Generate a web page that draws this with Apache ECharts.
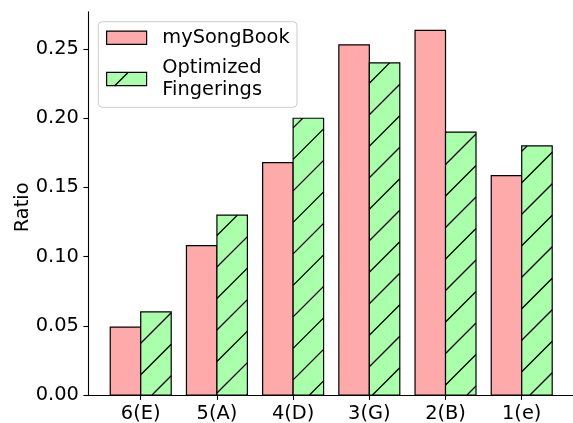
<!DOCTYPE html>
<html><head><meta charset="utf-8">
<script src="https://cdn.jsdelivr.net/npm/echarts@6/dist/echarts.min.js"></script>
<style>html,body{margin:0;padding:0;background:#fff}#c{width:573px;height:423px}</style>
</head><body><div id="c"></div>
<script>
const categories = ['6(E)', '5(A)', '4(D)', '3(G)', '2(B)', '1(e)'];
const mySongBook = [0.049, 0.108, 0.168, 0.253, 0.2635, 0.1585];
const optimizedFingerings = [0.060, 0.130, 0.200, 0.240, 0.190, 0.180];
const yTicks = [0, 0.05, 0.10, 0.15, 0.20, 0.25];
const xTicks = [0, 1, 2, 3, 4, 5];
const seriesNames = ['mySongBook', 'Optimized Fingerings'];

const FONT = 'DejaVu Sans';
const FS = 19.4;
const BAR_W = 0.4;
const PINK = '#ffaaaa', GREEN = '#aaffaa';
const HATCH_STEP = 31.5, HATCH_C0 = 452.5;

function hatchLines(x0, x1, yTop, yBot, z) {
  const out = [];
  const cMin = x0 + yTop, cMax = x1 + yBot;
  let k = Math.ceil((cMin - HATCH_C0) / HATCH_STEP);
  for (;; k++) {
    const c = HATCH_C0 + k * HATCH_STEP;
    if (c > cMax) break;
    const xa = Math.max(x0, c - yBot), xb = Math.min(x1, c - yTop);
    if (xb <= xa) continue;
    const el = {type: 'line', shape: {x1: xa, y1: c - xa, x2: xb, y2: c - xb},
      style: {stroke: '#000', lineWidth: 1.3}};
    if (z != null) el.z = z;
    out.push(el);
  }
  return out;
}

function makeRender(offset, hatched, color) {
  return function (params, api) {
    const i = api.value(0), v = api.value(1);
    const p0 = api.coord([i + offset - BAR_W / 2, v]);
    const p1 = api.coord([i + offset + BAR_W / 2, 0]);
    const x0 = p0[0], x1 = p1[0], yTop = p0[1], yBot = p1[1];
    const shape = {x: x0, y: yTop, width: x1 - x0, height: yBot - yTop};
    const children = [{type: 'rect', shape: shape, style: {fill: color}}];
    if (hatched) children.push(...hatchLines(x0, x1, yTop, yBot));
    children.push({type: 'rect', shape: shape, style: {fill: null, stroke: '#000', lineWidth: 1.2}});
    return {type: 'group', children: children};
  };
}

const chart = echarts.init(document.getElementById('c'), null, {renderer: 'canvas'});
const axisLineStyle = {color: '#000', width: 1.1};
const legendIcon = {x0: 106, x1: 146, y0: 72.7, y1: 86};
chart.setOption({
  animation: false,
  backgroundColor: '#fff',
  textStyle: {fontFamily: FONT},
  grid: {left: 88.3, right: 0, top: 11.7, bottom: 28, containLabel: false, outerBoundsMode: 'none'},
  xAxis: {
    type: 'value', min: -0.688, max: 5.673,
    splitLine: {show: false},
    axisLine: {show: true, onZero: false, lineStyle: axisLineStyle},
    axisTick: {show: true, length: 4.9, lineStyle: axisLineStyle, customValues: xTicks},
    axisLabel: {customValues: xTicks, formatter: v => categories[Math.round(v)] || '',
      fontSize: FS, fontFamily: FONT, color: '#000', margin: 9}
  },
  yAxis: {
    type: 'value', min: 0, max: 0.277,
    name: 'Ratio', nameLocation: 'middle', nameGap: 56, nameRotate: 90, nameMoveOverlap: false,
    nameTextStyle: {fontSize: FS, fontFamily: FONT, color: '#000', padding: [0, 8, 0, 0]},
    splitLine: {show: false},
    axisLine: {show: true, onZero: false, lineStyle: axisLineStyle},
    axisTick: {show: true, length: 4.9, lineStyle: axisLineStyle, customValues: yTicks},
    axisLabel: {customValues: yTicks, formatter: v => v.toFixed(2),
      fontSize: FS, fontFamily: FONT, color: '#000', margin: 9.5}
  },
  legend: {
    orient: 'vertical', left: 98.3, top: 21.7,
    padding: [4.7, 7.3, 5.7, 7.7], itemGap: 7.4,
    backgroundColor: 'rgba(255,255,255,0.8)', borderColor: '#cccccc', borderWidth: 1, borderRadius: 4,
    icon: 'rect', itemWidth: 40, itemHeight: 13.3,
    formatter: n => n.replace(' ', '\n'),
    textStyle: {fontSize: FS, fontFamily: FONT, color: '#000', lineHeight: 22.6, padding: [0, 0, 0, 10.7]},
    data: [
      {name: seriesNames[0], itemStyle: {color: PINK, borderColor: '#000', borderWidth: 1.2}},
      {name: seriesNames[1], itemStyle: {color: GREEN, borderColor: '#000', borderWidth: 1.2}}
    ]
  },
  graphic: {elements: hatchLines(legendIcon.x0, legendIcon.x1, legendIcon.y0, legendIcon.y1, 100)},
  series: [
    {name: seriesNames[0], type: 'custom', renderItem: makeRender(-0.2, false, PINK),
     itemStyle: {color: PINK, borderColor: '#000', borderWidth: 1.2},
     encode: {x: 0, y: 1}, data: mySongBook.map((v, i) => [i, v])},
    {name: seriesNames[1], type: 'custom', renderItem: makeRender(0.2, true, GREEN),
     itemStyle: {color: GREEN, borderColor: '#000', borderWidth: 1.2},
     encode: {x: 0, y: 1}, data: optimizedFingerings.map((v, i) => [i, v])}
  ]
});
</script></body></html>
